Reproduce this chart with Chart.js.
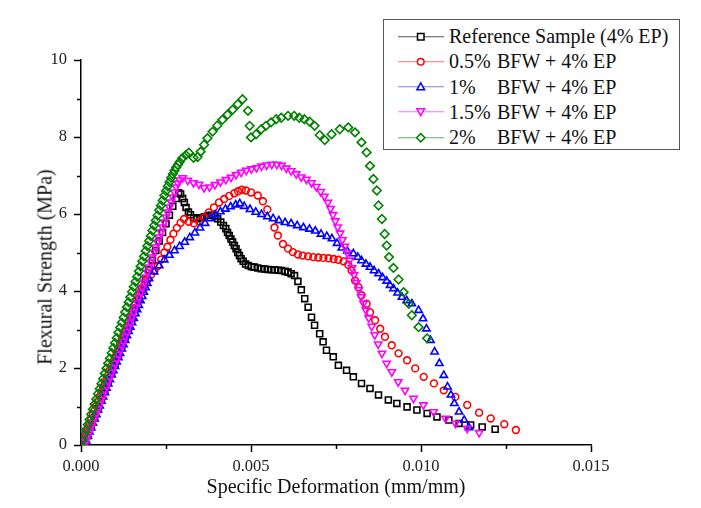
<!DOCTYPE html>
<html>
<head>
<meta charset="utf-8">
<script src="https://cdn.jsdelivr.net/npm/chart.js@4.4.0/dist/chart.umd.min.js"></script>
<style>
  body { margin: 0; background: #fff; overflow: hidden; }
  #wrap { position: relative; width: 701px; height: 508px; }
  #ytitle {
    position: absolute; left: 45px; top: 267px;
    transform: translate(-50%, -50%) rotate(-90deg);
    font: 20px "Liberation Serif", serif; color: #111; white-space: nowrap;
  }
  #legend {
    position: absolute; left: 383px; top: 19px; width: 295px; height: 125px;
    padding-top: 4px; border: 1px solid #555; background: #fff;
    font: 20px "Liberation Serif", serif; color: #111;
  }
  #legend .row { position: relative; height: 25.3px; line-height: 25.3px; }
  #legend svg { position: absolute; left: 14px; top: 6.5px; }
  #legend .txt { position: absolute; left: 65px; top: 0; white-space: nowrap; }
  #legend .pct { display: inline-block; width: 48px; }
</style>
</head>
<body>
<div id="wrap">
  <canvas id="chart" width="701" height="508"></canvas>
  <div id="ytitle">Flexural Strength (MPa)</div>
  <div id="legend"></div>
</div>
<script>
const seriesNames = ["Reference Sample (4% EP)", "0.5% BFW + 4% EP", "1% BFW + 4% EP", "1.5% BFW + 4% EP", "2% BFW + 4% EP"];
const xTicks = [0, 0.005, 0.01, 0.015];
const yTicks = [0, 2, 4, 6, 8, 10];

// Reference sample (4% EP)
const refX = [
  0.0001, 0.0002, 0.0003, 0.0004, 0.0005, 0.0006, 0.0007, 0.0008, 0.0009, 0.001,
  0.0011, 0.0012, 0.0013, 0.0014, 0.0015, 0.0016, 0.0017, 0.0018, 0.0019, 0.002,
  0.0021, 0.0022, 0.0023, 0.0024, 0.0025, 0.0026, 0.0027, 0.0028,
  0.00287, 0.00293, 0.00299, 0.00304, 0.00309, 0.00316, 0.00322, 0.00331, 0.00341, 0.00352,
  0.00363, 0.00374, 0.00384, 0.00393, 0.00402, 0.00411, 0.00419, 0.00426, 0.00431, 0.00436,
  0.00441, 0.00446, 0.00451, 0.00456, 0.00461, 0.00466, 0.00471, 0.00477, 0.00484, 0.00492,
  0.00501, 0.0051, 0.0052, 0.0053, 0.0054, 0.0055, 0.0056, 0.0057, 0.0058, 0.0059,
  0.006, 0.00609, 0.00618, 0.00628, 0.00638, 0.00648, 0.00658, 0.00668, 0.00678, 0.00687,
  0.00702, 0.00712, 0.00722, 0.00742, 0.00757, 0.00781, 0.00801, 0.00825, 0.0085, 0.00875,
  0.00904, 0.00929, 0.00959, 0.00988, 0.01018, 0.01047, 0.01082, 0.01112, 0.01146, 0.0118, 0.01218
];
const refY = [
  0, 0.24, 0.47, 0.71, 0.94, 1.18, 1.41, 1.65, 1.88, 2.12,
  2.35, 2.59, 2.82, 3.06, 3.3, 3.55, 3.8, 4.05, 4.3, 4.55,
  4.8, 5.05, 5.3, 5.52, 5.75, 5.97, 6.2, 6.4,
  6.55, 6.52, 6.4, 6.3, 6.17, 6.05, 5.98, 5.9, 5.88, 5.9,
  5.93, 5.96, 5.97, 5.95, 5.88, 5.79, 5.7, 5.62, 5.52, 5.44,
  5.35, 5.27, 5.18, 5.1, 5.0, 4.92, 4.84, 4.77, 4.7, 4.66,
  4.63, 4.62, 4.6, 4.58, 4.57, 4.56, 4.55, 4.55, 4.54, 4.53,
  4.51, 4.49, 4.45, 4.4, 4.25, 4.03, 3.8, 3.58, 3.32, 3.11,
  2.89, 2.68, 2.46, 2.29, 2.07, 1.94, 1.77, 1.6, 1.47, 1.3,
  1.17, 1.08, 0.99, 0.91, 0.82, 0.73, 0.65, 0.56, 0.52, 0.47, 0.41
];

// 0.5% BFW + 4% EP
const bfw05X = [
  0, 0.00005, 0.0001, 0.00015, 0.0002, 0.00025, 0.0003, 0.00035, 0.0004, 0.00045,
  0.0005, 0.00055, 0.0006, 0.00065, 0.0007, 0.00075, 0.0008, 0.00085, 0.0009, 0.00095,
  0.001, 0.00105, 0.0011, 0.00115, 0.0012, 0.00125, 0.0013, 0.00135, 0.0014, 0.00145,
  0.0015, 0.00155, 0.0016, 0.00165, 0.0017,
  0.00176, 0.00186, 0.00196, 0.00206, 0.00216, 0.00226, 0.00236, 0.00245, 0.00254, 0.00263,
  0.00272, 0.00282, 0.00293, 0.00303, 0.00317, 0.00332, 0.00347, 0.00362, 0.00376, 0.00391,
  0.00406, 0.00421, 0.00436, 0.00451, 0.00462, 0.00473, 0.00485, 0.005, 0.0052, 0.00535,
  0.00548, 0.00569, 0.00579, 0.00594, 0.00609, 0.00623, 0.00638, 0.00652, 0.00668, 0.00683,
  0.00698, 0.00713, 0.00728, 0.00743, 0.00757, 0.00772, 0.00786, 0.00796, 0.00806, 0.00816,
  0.00825, 0.0084, 0.0085, 0.00865, 0.0088, 0.00894, 0.00914, 0.00934, 0.00959, 0.00983,
  0.01008, 0.01038, 0.01067, 0.01101, 0.01136, 0.01171, 0.01205, 0.01245, 0.01279
];
const bfw05Y = [
  0, 0.1, 0.21, 0.33, 0.44, 0.56, 0.67, 0.79, 0.9, 1.02,
  1.13, 1.25, 1.36, 1.48, 1.59, 1.71, 1.82, 1.94, 2.05, 2.17,
  2.28, 2.4, 2.51, 2.63, 2.74, 2.86, 2.97, 3.09, 3.2, 3.32,
  3.43, 3.55, 3.66, 3.77, 3.88,
  3.99, 4.15, 4.3, 4.42, 4.53, 4.65, 4.82, 5.0, 5.15, 5.33,
  5.49, 5.64, 5.77, 5.87, 5.8, 5.76, 5.81, 5.91, 6.04, 6.17,
  6.3, 6.39, 6.47, 6.54, 6.59, 6.63, 6.61, 6.56, 6.48, 6.33,
  6.12, 5.65, 5.44, 5.22, 5.1, 5.01, 4.95, 4.92, 4.9, 4.88,
  4.87, 4.86, 4.85, 4.83, 4.81, 4.77, 4.68, 4.53, 4.27, 4.1,
  3.89, 3.67, 3.45, 3.24, 3.02, 2.81, 2.59, 2.38, 2.2, 1.99,
  1.77, 1.6, 1.42, 1.25, 1.04, 0.84, 0.69, 0.54, 0.39
];

// 1% BFW + 4% EP
const bfw1X = [
  0.0001, 0.00015, 0.0002, 0.00025, 0.0003, 0.00035, 0.0004, 0.00045, 0.0005, 0.00055,
  0.0006, 0.00065, 0.0007, 0.00075, 0.0008, 0.00085, 0.0009, 0.00095, 0.001, 0.00105,
  0.0011, 0.00115, 0.0012, 0.00125, 0.0013, 0.00135, 0.0014, 0.00145, 0.0015, 0.00155,
  0.0016, 0.00165, 0.0017, 0.00175, 0.0018, 0.00185, 0.0019, 0.00195,
  0.002, 0.00215, 0.0023, 0.00245, 0.0026, 0.00275, 0.0029, 0.00305, 0.0032, 0.00335,
  0.0035, 0.00365, 0.0038, 0.00395, 0.0041, 0.00425, 0.0044, 0.00455, 0.00467, 0.0048,
  0.00497, 0.00514, 0.00531, 0.00548, 0.00565, 0.00582, 0.006, 0.00618, 0.00636, 0.00654,
  0.00672, 0.00689, 0.00706, 0.00723, 0.00738, 0.00753, 0.00767, 0.00783, 0.00801, 0.00814,
  0.00825, 0.00838, 0.0085, 0.00862, 0.00875, 0.00887, 0.00899, 0.00909, 0.00919, 0.00931,
  0.00944, 0.00958, 0.00973, 0.00993, 0.01006, 0.01016, 0.01028, 0.0104, 0.01054, 0.01067,
  0.01078, 0.01088, 0.01098, 0.01112, 0.01127, 0.01141
];
const bfw1Y = [
  0, 0.11, 0.23, 0.34, 0.45, 0.57, 0.68, 0.79, 0.91, 1.02,
  1.14, 1.25, 1.36, 1.48, 1.59, 1.7, 1.82, 1.93, 2.04, 2.16,
  2.27, 2.38, 2.5, 2.61, 2.72, 2.84, 2.95, 3.06, 3.18, 3.29,
  3.41, 3.52, 3.63, 3.75, 3.86, 3.97, 4.09, 4.2,
  4.32, 4.5, 4.66, 4.81, 4.93, 5.05, 5.16, 5.27, 5.39, 5.51,
  5.64, 5.76, 5.88, 5.98, 6.06, 6.13, 6.19, 6.24, 6.27, 6.2,
  6.12, 6.05, 5.99, 5.93, 5.88, 5.83, 5.78, 5.75, 5.7, 5.65,
  5.61, 5.56, 5.48, 5.42, 5.36, 5.24, 5.12, 5.04, 4.97, 4.88,
  4.79, 4.7, 4.62, 4.53, 4.45, 4.35, 4.26, 4.15, 4.06, 3.95,
  3.84, 3.75, 3.67, 3.5, 3.28, 3.02, 2.72, 2.42, 2.12, 1.81,
  1.51, 1.3, 1.08, 0.86, 0.65, 0.45
];

// 1.5% BFW + 4% EP
const bfw15X = [
  0.0001, 0.00015, 0.0002, 0.00025, 0.0003, 0.00035, 0.0004, 0.00045, 0.0005, 0.00055,
  0.0006, 0.00065, 0.0007, 0.00075, 0.0008, 0.00085, 0.0009, 0.00095, 0.001, 0.00105,
  0.0011, 0.00115, 0.0012, 0.00125, 0.0013, 0.00135, 0.0014, 0.00145, 0.0015, 0.00155,
  0.0016, 0.00165, 0.0017, 0.00175, 0.0018, 0.00185, 0.0019, 0.00195, 0.002, 0.00205,
  0.0021, 0.00215, 0.0022, 0.00225, 0.0023, 0.00235, 0.0024, 0.00245, 0.0025, 0.00255,
  0.0026, 0.00265, 0.0027, 0.00275, 0.0028, 0.00285, 0.0029,
  0.00299, 0.00314, 0.00331, 0.00347, 0.00362, 0.00378, 0.00394, 0.0041, 0.00426, 0.00441,
  0.00456, 0.00471, 0.00486, 0.00501, 0.00516, 0.00531, 0.00546, 0.00561, 0.00576, 0.0059,
  0.00604, 0.00618, 0.00633, 0.00648, 0.00663, 0.00678, 0.00692, 0.00705, 0.00716, 0.00726,
  0.00734, 0.00741, 0.00748, 0.00755, 0.00762, 0.00769, 0.00776, 0.00783, 0.0079, 0.00797,
  0.00803, 0.0081, 0.00817, 0.00824, 0.00831, 0.00838, 0.00846, 0.00855, 0.00864, 0.00874,
  0.00885, 0.00899, 0.00914, 0.00933, 0.00953, 0.00978, 0.01007, 0.01037, 0.01072, 0.01101,
  0.01136, 0.01171
];
const bfw15Y = [
  0, 0.12, 0.24, 0.35, 0.47, 0.59, 0.71, 0.82, 0.94, 1.06,
  1.18, 1.29, 1.41, 1.53, 1.65, 1.76, 1.88, 2.0, 2.12, 2.23,
  2.35, 2.47, 2.59, 2.7, 2.82, 2.94, 3.06, 3.19, 3.32, 3.45,
  3.58, 3.71, 3.84, 3.97, 4.1, 4.23, 4.36, 4.49, 4.62, 4.75,
  4.88, 5.01, 5.14, 5.27, 5.4, 5.53, 5.66, 5.79, 5.92, 6.05,
  6.18, 6.31, 6.44, 6.57, 6.7, 6.8, 6.88,
  6.94, 6.87, 6.81, 6.77, 6.68, 6.7, 6.76, 6.83, 6.89, 6.95,
  7.02, 7.08, 7.13, 7.17, 7.2, 7.24, 7.27, 7.29, 7.29, 7.26,
  7.19, 7.12, 7.04, 6.96, 6.9, 6.81, 6.71, 6.58, 6.46, 6.3,
  6.14, 5.98, 5.82, 5.66, 5.5, 5.33, 5.16, 4.99, 4.8, 4.6,
  4.42, 4.22, 4.03, 3.85, 3.68, 3.5, 3.3, 3.08, 2.86, 2.62,
  2.38, 2.12, 1.9, 1.64, 1.42, 1.21, 1.04, 0.86, 0.69, 0.56,
  0.43, 0.32
];

// 2% BFW + 4% EP
const bfw2X = [
  0, 0.00005, 0.0001, 0.00015, 0.0002, 0.00025, 0.0003, 0.00035, 0.0004, 0.00045,
  0.0005, 0.00055, 0.0006, 0.00065, 0.0007, 0.00075, 0.0008, 0.00085, 0.0009, 0.00095,
  0.001, 0.00105, 0.0011, 0.00115, 0.0012, 0.00125, 0.0013, 0.00135, 0.0014, 0.00145,
  0.0015, 0.00155, 0.0016, 0.00165, 0.0017, 0.00175, 0.0018, 0.00185, 0.0019, 0.00195,
  0.002, 0.00205, 0.0021, 0.00215, 0.0022, 0.00225, 0.0023, 0.00235, 0.0024, 0.00245,
  0.0025, 0.00255, 0.0026, 0.00265, 0.0027, 0.00275, 0.0028, 0.00285, 0.0029, 0.00298,
  0.00308, 0.00317, 0.00331, 0.00343, 0.00352, 0.00362, 0.00372, 0.00387, 0.00401, 0.00416,
  0.00431, 0.00446, 0.00461, 0.00475, 0.00491, 0.00496, 0.005, 0.00515, 0.0053, 0.00544,
  0.00559, 0.00574, 0.00589, 0.00609, 0.00627, 0.00642, 0.00657, 0.00672, 0.00687, 0.00702,
  0.00717, 0.00737, 0.00761, 0.00786, 0.00806, 0.00825, 0.0084, 0.0085, 0.0086, 0.0087,
  0.00875, 0.00885, 0.00893, 0.00899, 0.00906, 0.00919, 0.00934, 0.00949, 0.00964, 0.00973,
  0.00993, 0.01018
];
const bfw2Y = [
  0, 0.13, 0.27, 0.4, 0.53, 0.66, 0.8, 0.93, 1.06, 1.19,
  1.33, 1.46, 1.59, 1.72, 1.86, 1.99, 2.12, 2.25, 2.39, 2.52,
  2.65, 2.78, 2.92, 3.05, 3.18, 3.31, 3.45, 3.58, 3.71, 3.84,
  3.98, 4.11, 4.24, 4.37, 4.51, 4.64, 4.77, 4.9, 5.04, 5.17,
  5.3, 5.43, 5.57, 5.7, 5.83, 5.96, 6.1, 6.22, 6.35, 6.48,
  6.6, 6.72, 6.83, 6.94, 7.04, 7.13, 7.21, 7.28, 7.35, 7.45,
  7.53, 7.59, 7.46, 7.48, 7.62, 7.8, 7.97, 8.14, 8.3, 8.45,
  8.58, 8.71, 8.85, 8.98, 8.68, 8.29, 7.99, 8.07, 8.2, 8.29,
  8.38, 8.46, 8.5, 8.55, 8.55, 8.5, 8.46, 8.4, 8.29, 8.05,
  7.92, 8.07, 8.2, 8.25, 8.12, 7.86, 7.6, 7.25, 6.91, 6.61,
  6.22, 5.87, 5.48, 5.18, 4.88, 4.6, 4.3, 3.97, 3.67, 3.37,
  3.06, 2.77
];

const seriesX = [refX, bfw05X, bfw1X, bfw15X, bfw2X];
const seriesY = [refY, bfw05Y, bfw1Y, bfw15Y, bfw2Y];

// styles
const colors = ["#000000", "#ff0000", "#0000ff", "#ff00ff", "#008000"];
const lineColors = ["#555555", "#ff7070", "#8080e0", "#ff70ff", "#60b060"];
const pointStyles = ["rect", "circle", "triangle", "triangle", "rectRot"];
const rotations = [0, 0, 0, 180, 0];
const radii = [4.2, 3.4, 4.2, 4.2, 4.3];
const drawOrder = [5, 4, 3, 2, 1];

const serif = "'Liberation Serif', 'Times New Roman', serif";

const datasets = seriesNames.map((name, i) => ({
  label: name,
  data: seriesX[i].map((x, j) => ({ x: x, y: seriesY[i][j] })),
  showLine: false,
  pointStyle: pointStyles[i],
  rotation: rotations[i],
  pointRadius: radii[i],
  pointBorderWidth: 1.6,
  pointBorderColor: colors[i],
  pointBackgroundColor: "rgba(255,255,255,0)",
  borderColor: colors[i],
  backgroundColor: "rgba(255,255,255,0)",
  order: drawOrder[i]
}));

// small outward minor ticks between the major ones
const minorTicks = {
  id: "minorTicks",
  afterDraw(chart) {
    const { ctx, scales } = chart;
    const x = scales.x, y = scales.y;
    ctx.save();
    ctx.strokeStyle = "#000";
    ctx.lineWidth = 1.5;
    ctx.beginPath();
    for (let i = 0; i < xTicks.length - 1; i++) {
      const px = Math.round(x.getPixelForValue((xTicks[i] + xTicks[i + 1]) / 2)) + 0.5;
      ctx.moveTo(px, y.bottom);
      ctx.lineTo(px, y.bottom + 4);
    }
    for (let i = 0; i < yTicks.length - 1; i++) {
      const py = Math.round(y.getPixelForValue((yTicks[i] + yTicks[i + 1]) / 2)) + 0.5;
      ctx.moveTo(x.left, py);
      ctx.lineTo(x.left - 4, py);
    }
    ctx.stroke();
    ctx.restore();
  }
};

new Chart(document.getElementById("chart"), {
  type: "scatter",
  data: { datasets: datasets },
  plugins: [minorTicks],
  options: {
    responsive: false,
    animation: false,
    layout: { padding: { top: 60, right: 110, bottom: 0, left: 0 } },
    plugins: { legend: { display: false }, tooltip: { enabled: false } },
    scales: {
      x: {
        type: "linear",
        min: 0,
        max: 0.015,
        afterFit(scale) { scale.height = 63; },
        afterBuildTicks(scale) { scale.ticks = xTicks.map(v => ({ value: v })); },
        border: { display: true, color: "#000", width: 1.5 },
        grid: { display: true, drawOnChartArea: false, drawTicks: true, tickLength: 7, tickColor: "#000", tickWidth: 1.5 },
        ticks: {
          padding: 5,
          color: "#222",
          font: { family: serif, size: 16.5 },
          maxRotation: 0,
          callback: v => v.toFixed(3)
        },
        title: {
          display: true,
          text: "Specific Deformation (mm/mm)",
          color: "#111",
          font: { family: serif, size: 20 },
          padding: { top: 0, bottom: 8 }
        }
      },
      y: {
        type: "linear",
        min: 0,
        max: 10,
        afterFit(scale) { scale.width = 81; },
        afterBuildTicks(scale) { scale.ticks = yTicks.map(v => ({ value: v })); },
        border: { display: true, color: "#000", width: 1.5 },
        grid: { display: true, drawOnChartArea: false, drawTicks: true, tickLength: 7, tickColor: "#000", tickWidth: 1.5 },
        ticks: {
          padding: 7,
          color: "#222",
          font: { family: serif, size: 16.5 },
          callback: v => String(v)
        },
        title: { display: false }
      }
    }
  }
});

// legend drawn as html next to the plot
function symbolSvg(i) {
  const c = colors[i];
  let m = "";
  if (i === 0) m = `<rect x="19.5" y="2.5" width="6.5" height="6.5" fill="#fff" stroke="${c}" stroke-width="1.5"/>`;
  if (i === 1) m = `<circle cx="22.75" cy="5.75" r="3.3" fill="#fff" stroke="${c}" stroke-width="1.5"/>`;
  if (i === 2) m = `<polygon points="22.75,1.8 26.6,8.8 18.9,8.8" fill="#fff" stroke="${c}" stroke-width="1.5"/>`;
  if (i === 3) m = `<polygon points="22.75,9.7 26.6,2.7 18.9,2.7" fill="#fff" stroke="${c}" stroke-width="1.5"/>`;
  if (i === 4) m = `<polygon points="22.75,1.6 26.9,5.75 22.75,9.9 18.6,5.75" fill="#fff" stroke="${c}" stroke-width="1.5"/>`;
  return `<svg width="46" height="12"><line x1="0" y1="5.75" x2="46" y2="5.75" stroke="${lineColors[i]}" stroke-width="1"/>${m}</svg>`;
}
const legend = document.getElementById("legend");
seriesNames.forEach((name, i) => {
  const row = document.createElement("div");
  row.className = "row";
  let txt;
  if (i === 0) {
    txt = name;
  } else {
    const k = name.indexOf(" ");
    txt = `<span class="pct">${name.slice(0, k)}</span>${name.slice(k + 1)}`;
  }
  row.innerHTML = symbolSvg(i) + `<span class="txt">${txt}</span>`;
  legend.appendChild(row);
});
</script>
</body>
</html>
